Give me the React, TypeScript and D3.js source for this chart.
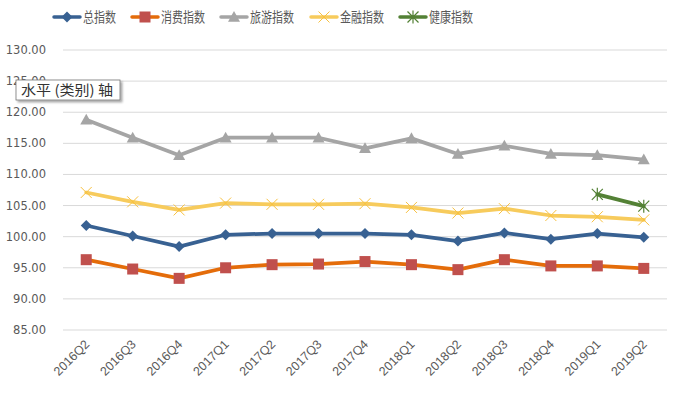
import React from 'react';
import { scaleLinear, scalePoint, line, format } from 'd3';

// quarters on the category axis
const quarters = [
  '2016Q2', '2016Q3', '2016Q4', '2017Q1', '2017Q2', '2017Q3', '2017Q4',
  '2018Q1', '2018Q2', '2018Q3', '2018Q4', '2019Q1', '2019Q2',
];

const totalIdx = [101.8, 100.1, 98.4, 100.3, 100.5, 100.5, 100.5, 100.3, 99.3, 100.6, 99.6, 100.5, 99.9];
const consumeIdx = [96.3, 94.8, 93.3, 95.0, 95.5, 95.6, 96.0, 95.5, 94.7, 96.3, 95.3, 95.3, 94.9];
const travelIdx = [118.8, 115.9, 113.1, 115.9, 115.9, 115.9, 114.2, 115.8, 113.3, 114.6, 113.3, 113.1, 112.4];
const financeIdx = [107.1, 105.6, 104.3, 105.4, 105.2, 105.2, 105.3, 104.7, 103.8, 104.5, 103.4, 103.2, 102.7];
const healthIdx: (number | null)[] = [null, null, null, null, null, null, null, null, null, null, null, 106.8, 104.9];

const yTicks = [85, 90, 95, 100, 105, 110, 115, 120, 125, 130];

type Marker = 'diamond' | 'square' | 'triangle' | 'x' | 'star';

const series = [
  { name: '总指数', values: totalIdx as (number | null)[], color: '#386192', markerColor: '#386192', marker: 'diamond' as Marker },
  { name: '消费指数', values: consumeIdx as (number | null)[], color: '#E46C0A', markerColor: '#C0504D', marker: 'square' as Marker },
  { name: '旅游指数', values: travelIdx as (number | null)[], color: '#A5A5A5', markerColor: '#A5A5A5', marker: 'triangle' as Marker },
  { name: '金融指数', values: financeIdx as (number | null)[], color: '#F7CB5C', markerColor: '#F8C13F', marker: 'x' as Marker },
  { name: '健康指数', values: healthIdx, color: '#538135', markerColor: '#538135', marker: 'star' as Marker },
];

const W = 677;
const H = 394;
const margin = { top: 50, right: 10, bottom: 64, left: 63 };

function MarkerShape({ type, x, y, color }: { type: Marker; x: number; y: number; color: string }) {
  if (type === 'diamond') {
    const r = 5.5;
    return <path d={`M${x},${y - r}L${x + r},${y}L${x},${y + r}L${x - r},${y}Z`} fill={color} />;
  }
  if (type === 'square') {
    const r = 5.5;
    return <rect x={x - r} y={y - r} width={2 * r} height={2 * r} fill={color} />;
  }
  if (type === 'triangle') {
    const r = 6;
    return <path d={`M${x},${y - r}L${x + r},${y + r * 0.8}L${x - r},${y + r * 0.8}Z`} fill={color} />;
  }
  if (type === 'x') {
    const r = 5.5;
    return (
      <path d={`M${x - r},${y - r}L${x + r},${y + r}M${x + r},${y - r}L${x - r},${y + r}`} stroke={color} strokeWidth={1} fill="none" />
    );
  }
  const r = 5.5;
  return (
    <path
      d={`M${x - r},${y - r}L${x + r},${y + r}M${x + r},${y - r}L${x - r},${y + r}M${x},${y - r - 1}L${x},${y + r + 1}`}
      stroke={color}
      strokeWidth={1.2}
      fill="none"
    />
  );
}

export default function App() {
  const innerW = W - margin.left - margin.right;
  const x = scalePoint<string>().domain(quarters).range([0, innerW]).padding(0.5);
  const y = scaleLinear().domain([85, 130]).range([H - margin.bottom, margin.top]);
  const fmt = format('.2f');

  const lineGen = line<number | null>()
    .defined(d => d !== null)
    .x((_, i) => margin.left + (x(quarters[i]) as number))
    .y(d => y(d as number));

  const legendX = [54, 132, 221, 311, 400];
  const legendTextW = [33, 44, 44, 44, 44];

  return (
    <svg width={W} height={H} style={{ position: 'absolute', left: 0, top: 0, background: '#fff' }}>
      {/* grid + y labels */}
      {yTicks.map(t => (
        <g key={t}>
          <line x1={margin.left} x2={W - margin.right} y1={y(t)} y2={y(t)} stroke="#D9D9D9" strokeWidth={1} />
          <text x={46} y={y(t) + 4} textAnchor="end" fontFamily="DejaVu Sans" fontSize={11.5} fill="#595959">
            {fmt(t)}
          </text>
        </g>
      ))}

      {/* x labels */}
      {quarters.map(q => {
        const cx = margin.left + (x(q) as number) + 4;
        const cy = H - margin.bottom + 15;
        return (
          <text
            key={q}
            transform={`translate(${cx},${cy}) rotate(-45)`}
            textAnchor="end"
            fontFamily="Liberation Sans"
            fontSize={12.5}
            fill="#595959"
          >
            {q}
          </text>
        );
      })}

      {/* series */}
      {series.map(s => (
        <g key={s.name}>
          <path d={lineGen(s.values) || ''} fill="none" stroke={s.color} strokeWidth={3.75} strokeLinejoin="round" strokeLinecap="round" />
          {s.values.map((v, i) =>
            v === null ? null : (
              <MarkerShape key={i} type={s.marker} x={margin.left + (x(quarters[i]) as number)} y={y(v)} color={s.markerColor} />
            ),
          )}
        </g>
      ))}

      {/* legend */}
      {series.map((s, i) => (
        <g key={s.name}>
          <line x1={legendX[i]} x2={legendX[i] + 26} y1={17} y2={17} stroke={s.color} strokeWidth={3.5} strokeLinecap="round" />
          <MarkerShape type={s.marker} x={legendX[i] + 13} y={17} color={s.markerColor} />
          <text
            x={legendX[i] + 29}
            y={22}
            fontFamily="Noto Sans CJK SC"
            fontSize={14}
            fill="#595959"
            textLength={legendTextW[i]}
            lengthAdjust="spacingAndGlyphs"
          >
            {s.name}
          </text>
        </g>
      ))}

      {/* hover tooltip */}
      <defs>
        <filter id="tipShadow" x="-10%" y="-30%" width="130%" height="180%">
          <feDropShadow dx={2} dy={2} stdDeviation={1.2} floodColor="#000" floodOpacity={0.35} />
        </filter>
      </defs>
      <rect x={16} y={80} width={104} height={20} fill="#fff" stroke="#767676" strokeWidth={0.8} filter="url(#tipShadow)" />
      <text
        x={21}
        y={95}
        fontFamily="Noto Sans CJK SC"
        fontSize={14}
        fill="#333"
        textLength={92}
        lengthAdjust="spacingAndGlyphs"
      >
        水平 (类别) 轴
      </text>
    </svg>
  );
}
